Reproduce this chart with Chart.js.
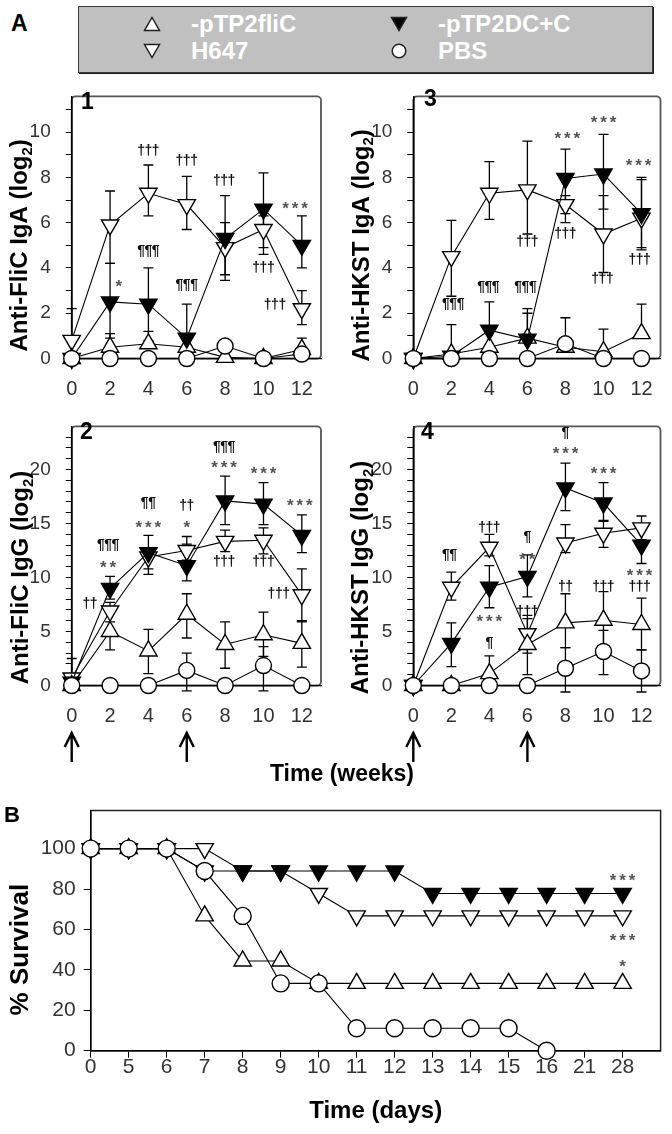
<!DOCTYPE html>
<html><head><meta charset="utf-8">
<script src="https://cdn.jsdelivr.net/npm/chart.js@4.4.1/dist/chart.umd.min.js"></script>
<style>
html,body{margin:0;padding:0;background:#fff;}
body{position:relative;width:672px;height:1134px;overflow:hidden;font-family:'Liberation Sans',Arial,sans-serif;}
canvas{position:absolute;}
.lbl{position:absolute;font-weight:bold;color:#000;line-height:1;white-space:nowrap;}
#legend{position:absolute;left:78px;top:6px;width:573px;height:65px;background:#c0c0c0;border:1px solid #3a3a3a;box-shadow:1px 1px 0 #222;}
.li{position:absolute;display:flex;align-items:center;color:#fff;font-weight:bold;font-size:24px;line-height:1;white-space:nowrap;}
.li svg{position:absolute;}
</style></head>
<body>
<div class="lbl" style="left:11px;top:12px;font-size:23px">A</div>
<div id="legend"></div>
<canvas id="p1" width="336" height="330" style="left:0;top:70px"></canvas>
<canvas id="p3" width="336" height="330" style="left:336px;top:70px"></canvas>
<canvas id="p2" width="336" height="370" style="left:0;top:400px"></canvas>
<canvas id="p4" width="336" height="370" style="left:336px;top:400px"></canvas>
<canvas id="pB" width="672" height="344" style="left:0;top:790px"></canvas>
<div class="lbl" style="left:81px;top:90px;font-size:23px">1</div>
<div class="lbl" style="left:424px;top:87px;font-size:23px">3</div>
<div class="lbl" style="left:80px;top:420px;font-size:23px">2</div>
<div class="lbl" style="left:421px;top:420px;font-size:23px">4</div>
<div class="lbl" style="left:192px;top:762px;width:300px;text-align:center;font-size:23px">Time (weeks)</div>
<div class="lbl" style="left:4px;top:804px;font-size:22px">B</div>
<script>
// ================= DATA =================
const seriesNames = ['-pTP2fliC', '-pTP2DC+C', 'H647', 'PBS'];
const weeks = [0, 2, 4, 6, 8, 10, 12];
const boostWeeks = [0, 6];
const igaTickLabels = [0, 2, 4, 6, 8, 10];
const iggTickLabels = [0, 5, 10, 15, 20];

// Panel 1 - Anti-FliC IgA (log2)
const p1FliC   = [0, 0.5, 0.65, 0.5, 0.05, 0, 0.4];
const p1FliCHi = [null, 1.1, 1.2, 1.0, null, null, 0.9];
const p1FliCLo = [null, null, null, null, null, null, null];
const p1DC     = [0, 2.5, 2.4, 0.9, 5.3, 6.6, 5.0];
const p1DCHi   = [null, 4.2, 4.0, 2.4, 6.0, 8.2, 6.3];
const p1DCLo   = [null, 0.9, 0.8, null, 3.7, 4.9, 4.0];
const p1H647   = [0.8, 5.9, 7.3, 6.8, 4.9, 5.7, 2.2];
const p1H647Hi = [2.2, 7.4, 8.55, 8.05, 7.2, 6.3, 3.0];
const p1H647Lo = [null, 4.2, 6.3, 5.7, 3.45, 4.6, 1.5];
const p1PBS    = [0, 0, 0, 0, 0.55, 0, 0.2];
const p1Marks  = [[4, 9.15, '†††'], [6, 8.7, '†††'], [7.95, 7.85, '†††'], [11.65, 6.75, '***'],
                  [4, 4.75, '¶¶¶'], [6, 3.25, '¶¶¶'], [2.45, 3.3, '*'], [10, 4.0, '†††'], [10.6, 2.35, '†††']];

// Panel 3 - Anti-HKST IgA (log2)
const p3FliC   = [0, 0.2, 0.5, 0.9, 0.5, 0.3, 1.1];
const p3FliCHi = [null, 1.5, null, 2.0, 1.8, 1.3, 2.4];
const p3FliCLo = [null, null, null, null, null, null, null];
const p3DC     = [0, 0.1, 1.25, 0.85, 7.95, 8.15, 6.4];
const p3DCHi   = [null, null, 2.5, 2.2, 9.25, 9.9, 8.0];
const p3DCLo   = [null, null, null, null, 6.4, 6.6, 4.9];
const p3H647   = [0, 4.5, 7.3, 7.45, 6.8, 5.5, 6.2];
const p3H647Hi = [null, 6.1, 8.7, 9.6, 7.2, 7.2, 7.9];
const p3H647Lo = [null, 2.75, 6.15, 5.5, 6.0, 3.8, 4.8];
const p3PBS    = [0, 0, 0, 0, 0.65, 0, 0];
const p3Marks  = [[8.1, 9.85, '***'], [10, 10.55, '***'], [11.85, 8.65, '***'], [2.1, 2.4, '¶¶¶'],
                  [3.95, 3.15, '¶¶¶'], [5.9, 3.15, '¶¶¶'], [6, 5.15, '†††'], [8, 5.5, '†††'],
                  [9.95, 3.5, '†††'], [11.9, 4.35, '†††']];

// Panel 2 - Anti-FliC IgG (log2)
const p2FliC   = [0, 5.0, 3.2, 6.6, 3.8, 4.7, 3.9];
const p2FliCHi = [null, 6.9, 5.2, 8.5, 5.9, 6.8, 6.0];
const p2FliCLo = [null, 3.3, 1.1, 4.4, 1.6, 2.7, 1.7];
const p2DC     = [0.3, 9.0, 12.3, 11.1, 17.1, 16.8, 13.9];
const p2DCHi   = [null, 10.1, 13.9, 13.1, 19.4, 18.8, 15.8];
const p2DCLo   = [null, 8.0, 10.8, 9.7, 14.9, 14.9, 12.3];
const p2H647   = [0.7, 6.9, 11.9, 12.5, 13.35, 13.45, 8.4];
const p2H647Hi = [2.5, 7.7, 12.5, 13.8, 14.4, 14.6, 10.8];
const p2H647Lo = [null, 5.9, 10.3, 11.6, 12.4, 12.2, 5.9];
const p2PBS    = [0, 0, 0, 1.4, 0, 1.85, 0];
const p2PBSHi  = [null, null, null, 3.0, null, 3.6, null];
const p2PBSLo  = [null, null, null, -0.5, null, -0.5, null];
const p2Marks  = [[1.9, 13.0, '¶¶¶'], [1.9, 11.2, '**'], [0.95, 7.5, '††'], [4, 16.9, '¶¶'], [4, 14.9, '***'],
                  [6, 16.6, '††'], [6, 14.9, '*'], [7.95, 22.1, '¶¶¶'], [7.95, 20.5, '***'], [10, 19.9, '***'],
                  [11.9, 17.0, '***'], [7.95, 11.4, '†††'], [10, 11.4, '†††'], [10.8, 8.5, '†††']];

// Panel 4 - Anti-HKST IgG (log2)
const p4FliC   = [0, 0, 1.1, 3.8, 5.8, 6.05, 5.65];
const p4FliCHi = [null, null, 2.75, 6.2, 8.5, 8.7, 8.1];
const p4FliCLo = [null, null, null, 1.0, 3.5, 3.6, 3.3];
const p4DC     = [0, 3.9, 9.1, 10.1, 18.3, 16.9, 13.0];
const p4DCHi   = [null, 5.8, 11.1, 12.1, 20.6, 18.8, 14.9];
const p4DCLo   = [null, 1.75, 7.2, 8.2, 16.2, 15.2, 11.3];
const p4H647   = [0, 9.1, 12.8, 4.8, 13.2, 14.1, 14.6];
const p4H647Hi = [null, 10.5, 14.0, 6.5, 14.9, 15.3, 15.7];
const p4H647Lo = [null, 7.9, 12.0, 3.0, 12.3, 12.8, 13.5];
const p4PBS    = [0, 0, 0, 0, 1.6, 3.15, 1.35];
const p4PBSHi  = [null, null, null, null, 3.5, 5.1, 3.3];
const p4PBSLo  = [null, null, null, null, -0.6, 1.0, -0.6];
const p4Marks  = [[1.9, 12.1, '¶¶'], [4, 14.6, '†††'], [4, 6.2, '***'], [4, 3.9, '¶'], [6, 13.7, '¶'],
                  [6, 12.0, '**'], [6, 6.8, '†††'], [8, 23.4, '¶'], [8, 21.8, '***'], [8, 9.1, '††'],
                  [10, 19.9, '***'], [10, 9.1, '†††'], [11.9, 10.5, '***'], [11.9, 9.1, '†††']];

// Panel B - survival
const days      = ['0', '5', '6', '7', '8', '9', '10', '11', '12', '13', '14', '15', '16', '21', '28'];
const survTicks = [0, 20, 40, 60, 80, 100];
const survFliC  = [100, 100, 100, 66.7, 44.4, 44.4, 33.3, 33.3, 33.3, 33.3, 33.3, 33.3, 33.3, 33.3, 33.3];
const survDC    = [100, 100, 100, 88.9, 88.9, 88.9, 88.9, 88.9, 88.9, 77.8, 77.8, 77.8, 77.8, 77.8, 77.8];
const survH647  = [100, 100, 100, 100, 88.9, 88.9, 77.8, 66.7, 66.7, 66.7, 66.7, 66.7, 66.7, 66.7, 66.7];
const survPBS   = [100, 100, 100, 88.9, 66.7, 33.3, 33.3, 11.1, 11.1, 11.1, 11.1, 11.1, 0, null, null];
const survMarks = [[14, 86, '***'], [14, 56, '***'], [14, 43, '*']];

// ================= STYLE / PLUGINS =================
const SANS = "'Liberation Sans', Arial, sans-serif";
const NARROW = "'Liberation Sans Narrow', 'Liberation Sans', Arial, sans-serif";

const framePlugin = {
  id: 'frame',
  beforeDraw(chart, args, o) {
    if (!o || !o.color) return;
    const {left, top, right, bottom} = chart.chartArea;
    const ctx = chart.ctx;
    ctx.save();
    ctx.strokeStyle = o.color; ctx.lineWidth = o.width;
    ctx.beginPath();
    if (ctx.roundRect) ctx.roundRect(left, top, right - left, bottom - top, o.radius || 0);
    else ctx.rect(left, top, right - left, bottom - top);
    ctx.stroke();
    ctx.restore();
  }
};

const errPlugin = {
  id: 'errbars',
  beforeDatasetsDraw(chart, args, o) {
    const ctx = chart.ctx, xs = chart.scales.x, ys = chart.scales.y;
    const cap = (o && o.cap) || 5;
    ctx.save();
    ctx.strokeStyle = '#000'; ctx.lineWidth = (o && o.width) || 1.3;
    chart.data.datasets.forEach(ds => {
      if (!ds.errHi && !ds.errLo) return;
      ds.data.forEach((p, i) => {
        if (!p || p.y == null) return;
        const hi = ds.errHi ? ds.errHi[i] : null, lo = ds.errLo ? ds.errLo[i] : null;
        if (hi == null && lo == null) return;
        const x = xs.getPixelForValue(p.x);
        const yt = ys.getPixelForValue(hi != null ? hi : p.y);
        const yb = ys.getPixelForValue(lo != null ? lo : p.y);
        ctx.beginPath();
        ctx.moveTo(x, yt); ctx.lineTo(x, yb);
        if (hi != null) { ctx.moveTo(x - cap, yt); ctx.lineTo(x + cap, yt); }
        if (lo != null) { ctx.moveTo(x - cap, yb); ctx.lineTo(x + cap, yb); }
        ctx.stroke();
      });
    });
    ctx.restore();
  }
};

const marksPlugin = {
  id: 'marks',
  afterDatasetsDraw(chart, args, o) {
    if (!o || !o.items) return;
    const ctx = chart.ctx, xs = chart.scales.x, ys = chart.scales.y;
    ctx.save();
    ctx.textAlign = 'center'; ctx.textBaseline = 'middle';
    o.items.forEach(([xv, yv, t]) => {
      const px = xs.getPixelForValue(xv), py = ys.getPixelForValue(yv);
      const star = t[0] === '*';
      const gap = star ? o.starGap : o.symGap;
      ctx.font = star ? o.starFont : o.symFont;
      ctx.fillStyle = star ? o.starColor : o.symColor;
      const n = t.length, x0 = px - gap * (n - 1) / 2;
      for (let k = 0; k < n; k++) ctx.fillText(t[k], x0 + k * gap, py + (star ? o.starDy : 0));
    });
    ctx.restore();
  }
};

const arrowPlugin = {
  id: 'arrows',
  afterDraw(chart, args, o) {
    if (!o || !o.values) return;
    const ctx = chart.ctx, xs = chart.scales.x;
    ctx.save();
    ctx.strokeStyle = '#000'; ctx.lineWidth = 2.4; ctx.lineCap = 'butt';
    o.values.forEach(v => {
      const x = xs.getPixelForValue(v);
      ctx.beginPath();
      ctx.moveTo(x, o.y1); ctx.lineTo(x, o.y2);
      ctx.moveTo(x - 7, o.y1 + 15); ctx.lineTo(x, o.y1 + 1); ctx.lineTo(x + 7, o.y1 + 15);
      ctx.stroke();
    });
    ctx.restore();
  }
};

const rangeTitlePlugin = {
  id: 'rangeTitle',
  afterDraw(chart, args, o) {
    if (!o || !o.main) return;
    const ys = chart.scales.y, ctx = chart.ctx;
    const cy = (ys.getPixelForValue(o.from) + ys.getPixelForValue(o.to)) / 2;
    const f1 = `bold ${o.size}px ${SANS}`, f2 = `bold ${Math.round(o.size * 0.62)}px ${SANS}`;
    ctx.save();
    ctx.fillStyle = '#000';
    ctx.font = f1;
    const w1 = ctx.measureText(o.main).width, w3 = o.tail ? ctx.measureText(o.tail).width : 0;
    ctx.font = f2;
    const w2 = o.sub ? ctx.measureText(o.sub).width : 0;
    const total = w1 + w2 + w3;
    ctx.translate(o.x, cy); ctx.rotate(-Math.PI / 2);
    ctx.textAlign = 'left'; ctx.textBaseline = 'alphabetic';
    const base = o.size * 0.36;
    let x = -total / 2;
    ctx.font = f1; ctx.fillText(o.main, x, base); x += w1;
    if (o.sub) { ctx.font = f2; ctx.fillText(o.sub, x, base + o.size * 0.2); x += w2; }
    if (o.tail) { ctx.font = f1; ctx.fillText(o.tail, x, base); }
    ctx.restore();
  }
};

Chart.register(framePlugin, errPlugin, marksPlugin, arrowPlugin, rangeTitlePlugin);

// marker styles per series: [pointStyle, rotation, fill]
const styleFliC = ['triangle', 0, '#fff'];
const styleDC   = ['triangle', 180, '#000'];
const styleH647 = ['triangle', 180, '#fff'];
const stylePBS  = ['circle', 0, '#fff'];

function makeDs(label, xs, vals, hi, lo, st, r) {
  return {
    label,
    data: xs.map((x, i) => ({x, y: vals[i]})).filter(p => p.y != null),
    errHi: hi, errLo: lo,
    borderColor: '#000', borderWidth: 1.1, tension: 0,
    pointStyle: st[0], pointRotation: st[1], pointBackgroundColor: st[2],
    pointBorderColor: '#000', pointBorderWidth: 1.4, pointRadius: r, pointHoverRadius: r,
    clip: false
  };
}

function panelA(id, s, o) {
  const TRI = 10, CIR = 8;
  const datasets = [
    makeDs(seriesNames[3], weeks, s.pbs, s.pbsHi, s.pbsLo, stylePBS, CIR),
    makeDs(seriesNames[1], weeks, s.dc, s.dcHi, s.dcLo, styleDC, TRI),
    makeDs(seriesNames[0], weeks, s.fli, s.fliHi, s.fliLo, styleFliC, TRI),
    makeDs(seriesNames[2], weeks, s.h, s.hHi, s.hLo, styleH647, TRI)
  ];
  return new Chart(document.getElementById(id), {
    type: 'line',
    data: {datasets},
    options: {
      responsive: false, animation: false, events: [],
      layout: {padding: {left: 0, top: o.padTop, right: o.padRight, bottom: 0}},
      plugins: {
        legend: {display: false}, tooltip: {enabled: false},
        frame: {color: '#555', width: 1.8, radius: 4},
        errbars: {cap: 5, width: 1.3},
        marks: {items: o.marks, symFont: `bold 14px ${SANS}`, symColor: '#111', symGap: 7.3,
                starFont: `bold 17px ${SANS}`, starColor: '#555', starGap: 9.5, starDy: 4},
        rangeTitle: {main: o.title, sub: '2', tail: ')', from: 0, to: o.labels[o.labels.length - 1], x: o.titleX, size: 24},
        arrows: o.arrows || {}
      },
      scales: {
        x: {
          type: 'linear', min: 0, max: 13,
          afterBuildTicks: sc => { sc.ticks = weeks.map(v => ({value: v})); },
          afterFit: sc => { sc.height = o.xHeight; },
          grid: {display: false, drawTicks: false},
          border: {display: true, color: '#000', width: 1.2},
          ticks: {font: {family: NARROW, size: 20}, color: '#333', padding: 18.5, maxRotation: 0, autoSkip: false,
                  callback: v => String(v)}
        },
        y: {
          type: 'linear', min: 0, max: o.yMax,
          afterBuildTicks: sc => { sc.ticks = o.minor.map(v => ({value: v})); },
          afterFit: sc => { sc.width = o.yWidth; },
          grid: {display: true, drawOnChartArea: false, drawTicks: true, tickLength: 6, color: '#000', lineWidth: 1},
          border: {display: true, color: '#000', width: 1.6},
          ticks: {font: {family: NARROW, size: 19}, color: '#333', padding: 15, autoSkip: false,
                  callback: v => o.labels.includes(v) ? String(v) : ''}
        }
      }
    }
  });
}

const minorIgA = Array.from({length: 12}, (_, i) => i);
const minorIgG = Array.from({length: 24}, (_, i) => i);

panelA('p1', {fli: p1FliC, fliHi: p1FliCHi, fliLo: p1FliCLo, dc: p1DC, dcHi: p1DCHi, dcLo: p1DCLo,
              h: p1H647, hHi: p1H647Hi, hLo: p1H647Lo, pbs: p1PBS},
  {padTop: 10.5, padRight: 15, xHeight: 41.5, yWidth: 71.7, yMax: 11.58, minor: minorIgA, labels: igaTickLabels,
   marks: p1Marks, title: 'Anti-FliC IgA (log', titleX: 18.5});
panelA('p3', {fli: p3FliC, fliHi: p3FliCHi, fliLo: p3FliCLo, dc: p3DC, dcHi: p3DCHi, dcLo: p3DCLo,
              h: p3H647, hHi: p3H647Hi, hLo: p3H647Lo, pbs: p3PBS},
  {padTop: 10.5, padRight: 10.3, xHeight: 41.5, yWidth: 77.3, yMax: 11.58, minor: minorIgA, labels: igaTickLabels,
   marks: p3Marks, title: 'Anti-HKST IgA (log', titleX: 24});
panelA('p2', {fli: p2FliC, fliHi: p2FliCHi, fliLo: p2FliCLo, dc: p2DC, dcHi: p2DCHi, dcLo: p2DCLo,
              h: p2H647, hHi: p2H647Hi, hLo: p2H647Lo, pbs: p2PBS, pbsHi: p2PBSHi, pbsLo: p2PBSLo},
  {padTop: 8, padRight: 15, xHeight: 84.5, yWidth: 71.7, yMax: 24, minor: minorIgG, labels: iggTickLabels,
   marks: p2Marks, title: 'Anti-FliC IgG (log', titleX: 19.5, arrows: {values: boostWeeks, y1: 332, y2: 362}});
panelA('p4', {fli: p4FliC, fliHi: p4FliCHi, fliLo: p4FliCLo, dc: p4DC, dcHi: p4DCHi, dcLo: p4DCLo,
              h: p4H647, hHi: p4H647Hi, hLo: p4H647Lo, pbs: p4PBS, pbsHi: p4PBSHi, pbsLo: p4PBSLo},
  {padTop: 8, padRight: 10.3, xHeight: 84.5, yWidth: 77.3, yMax: 24, minor: minorIgG, labels: iggTickLabels,
   marks: p4Marks, title: 'Anti-HKST IgG (log', titleX: 23.5, arrows: {values: boostWeeks, y1: 332, y2: 362}});

// Panel B
const dayIdx = days.map((_, i) => i);
new Chart(document.getElementById('pB'), {
  type: 'line',
  data: {datasets: [
    makeDs(seriesNames[3], dayIdx, survPBS, null, null, stylePBS, 8.5),
    makeDs(seriesNames[1], dayIdx, survDC, null, null, styleDC, 10),
    makeDs(seriesNames[0], dayIdx, survFliC, null, null, styleFliC, 10),
    makeDs(seriesNames[2], dayIdx, survH647, null, null, styleH647, 10)
  ]},
  options: {
    responsive: false, animation: false, events: [],
    layout: {padding: {left: 0, top: 14, right: 8.6, bottom: 0}},
    plugins: {
      legend: {display: false}, tooltip: {enabled: false},
      frame: {color: '#222', width: 1.5, radius: 0},
      marks: {items: survMarks, symFont: `bold 14px ${SANS}`, symColor: '#111', symGap: 7,
              starFont: `bold 17px ${SANS}`, starColor: '#555', starGap: 9.5, starDy: 4},
      rangeTitle: {main: '% Survival', from: 0, to: 100, x: 18.5, size: 26}
    },
    scales: {
      x: {
        type: 'linear', min: 0, max: 15,
        afterBuildTicks: sc => { sc.ticks = dayIdx.map(v => ({value: v})); },
        afterFit: sc => { sc.height = 83.3; },
        grid: {display: true, drawOnChartArea: false, drawTicks: true, tickLength: 7, color: '#000'},
        border: {display: true, color: '#000', width: 1.5},
        ticks: {font: {family: SANS, size: 21}, color: '#333', padding: -3, maxRotation: 0, autoSkip: false,
                callback: v => days[v]},
        title: {display: true, text: 'Time (days)', font: {family: SANS, size: 24, weight: 'bold'}, color: '#000',
                padding: {top: 0, bottom: 8}}
      },
      y: {
        type: 'linear', min: 0, max: 118.8,
        afterBuildTicks: sc => { sc.ticks = survTicks.map(v => ({value: v})); },
        afterFit: sc => { sc.width = 90.7; },
        grid: {display: true, drawOnChartArea: false, drawTicks: true, tickLength: 7, color: '#000'},
        border: {display: true, color: '#000', width: 1.5},
        ticks: {font: {family: SANS, size: 21}, color: '#333', padding: 8, autoSkip: false, callback: v => String(v)}
      }
    }
  }
});

// Legend (HTML)
function symbolSvg(st) {
  const [shape, rot, fill] = st;
  if (shape === 'circle')
    return `<svg width="18" height="18" viewBox="0 0 18 18"><circle cx="9" cy="9" r="6.8" fill="${fill}" stroke="#222" stroke-width="1.5"/></svg>`;
  const pts = rot ? '1.5,2.5 16.5,2.5 9,15.5' : '9,2.5 16.5,15.5 1.5,15.5';
  return `<svg width="18" height="18" viewBox="0 0 18 18"><polygon points="${pts}" fill="${fill}" stroke="#222" stroke-width="1.5"/></svg>`;
}
const legendItems = [[0, styleFliC, 0, 0], [1, styleDC, 1, 0], [2, styleH647, 0, 1], [3, stylePBS, 1, 1]];
const legendCols = [73, 320], legendRows = [16.5, 44];
const leg = document.getElementById('legend');
legendItems.forEach(([si, st, c, r]) => {
  const d = document.createElement('div');
  d.className = 'li';
  d.style.left = (legendCols[c] - 9) + 'px';
  d.style.top = (legendRows[r] - 12) + 'px';
  d.style.height = '24px';
  d.innerHTML = symbolSvg(st).replace('<svg', '<svg style="left:0;top:3px"') +
    `<span style="margin-left:48px">${seriesNames[si]}</span>`;
  leg.appendChild(d);
});
</script>
</body></html>
